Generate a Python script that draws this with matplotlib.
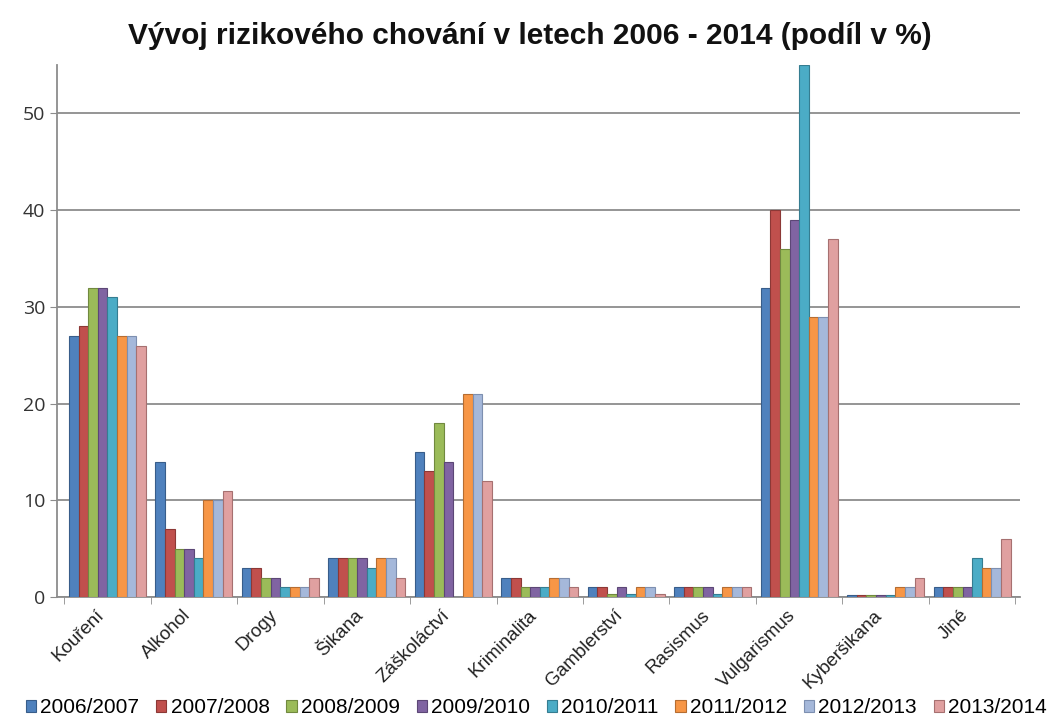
import numpy as np
import matplotlib.pyplot as plt
import matplotlib.transforms as mtrans
from matplotlib.ticker import FixedLocator, NullFormatter

plt.rcParams['font.family'] = ['Liberation Sans', 'DejaVu Sans']

categories = ['Kouření', 'Alkohol', 'Drogy', 'Šikana', 'Záškoláctví', 'Kriminalita',
              'Gamblerství', 'Rasismus', 'Vulgarismus', 'Kyberšikana', 'Jiné']
seasons = ['2006/2007', '2007/2008', '2008/2009', '2009/2010',
           '2010/2011', '2011/2012', '2012/2013', '2013/2014']

v2006 = [27, 14, 3, 4, 15, 2, 1, 1, 32, 0.2, 1]
v2007 = [28, 7, 3, 4, 13, 2, 1, 1, 40, 0.2, 1]
v2008 = [32, 5, 2, 4, 18, 1, 0.3, 1, 36, 0.2, 1]
v2009 = [32, 5, 2, 4, 14, 1, 1, 1, 39, 0.2, 1]
v2010 = [31, 4, 1, 3, 0, 1, 0.3, 0.3, 55, 0.2, 4]
v2011 = [27, 10, 1, 4, 21, 2, 1, 1, 29, 1, 3]
v2012 = [27, 10, 1, 4, 21, 2, 1, 1, 29, 1, 3]
v2013 = [26, 11, 2, 2, 12, 1, 0.3, 1, 37, 2, 6]
series = [v2006, v2007, v2008, v2009, v2010, v2011, v2012, v2013]

colors = ['#4F81BD', '#C0504D', '#9BBB59', '#8064A2',
          '#4BACC6', '#F79646', '#A5B8DA', '#E0A0A0']
edges = ['#385D8A', '#8C3836', '#71893F', '#5C4776',
         '#357D91', '#B66D31', '#7D8FB0', '#A67070']

fig = plt.figure(figsize=(10.6, 7.22), dpi=100)
ax = fig.add_axes([0.054, 0.173, 0.908, 0.737])

x = np.arange(len(categories))
w = 0.89 / len(series)
for i, vals in enumerate(series):
    ax.bar(x - 0.445 + w * (i + 0.5), vals, width=w, color=colors[i],
           edgecolor=edges[i], linewidth=0.8, label=seasons[i], zorder=3)

ax.set_xlim(-0.58, len(categories) - 0.45)
ax.set_ylim(0, 55)
ax.set_yticks([0, 10, 20, 30, 40, 50])
ax.yaxis.grid(True, color='#8C8C8C', linewidth=1.3, zorder=0)
ax.tick_params(axis='y', labelsize=14, length=5, color='#8C8C8C', labelcolor='#333333')
for t in ax.get_yticklabels():
    t.set_family(['Open Sans', 'DejaVu Sans'])

ax.set_xticks(x)
ax.set_xticklabels(categories, rotation=45, ha='right', rotation_mode='anchor',
                   fontsize=13.5, color='#222222')
ax.tick_params(axis='x', which='major', length=0, pad=7)
shift = mtrans.ScaledTranslation(-12 / 100, 0, fig.dpi_scale_trans)
for t in ax.get_xticklabels():
    t.set_transform(t.get_transform() + shift)
ax.xaxis.set_minor_locator(FixedLocator(np.arange(-0.5, len(categories), 1.0)))
ax.xaxis.set_minor_formatter(NullFormatter())
ax.tick_params(axis='x', which='minor', length=5, color='#8C8C8C')

for s in ['top', 'right']:
    ax.spines[s].set_visible(False)
ax.spines['left'].set_color('#8C8C8C')
ax.spines['bottom'].set_color('#8C8C8C')
ax.spines['left'].set_linewidth(1.3)
ax.spines['bottom'].set_linewidth(1.3)

fig.text(0.5, 0.95, 'Vývoj rizikového chování v letech 2006 - 2014 (podíl v %)',
         ha='center', va='center', fontsize=21.5, fontweight='bold', color='#111111')

fig.legend(loc='center', bbox_to_anchor=(0.506, 0.02), ncol=8, frameon=False,
           fontsize=15, handlelength=0.5, handleheight=0.5, handletextpad=0.2,
           columnspacing=0.8, borderaxespad=0)

fig.savefig('out.png', dpi=100)
